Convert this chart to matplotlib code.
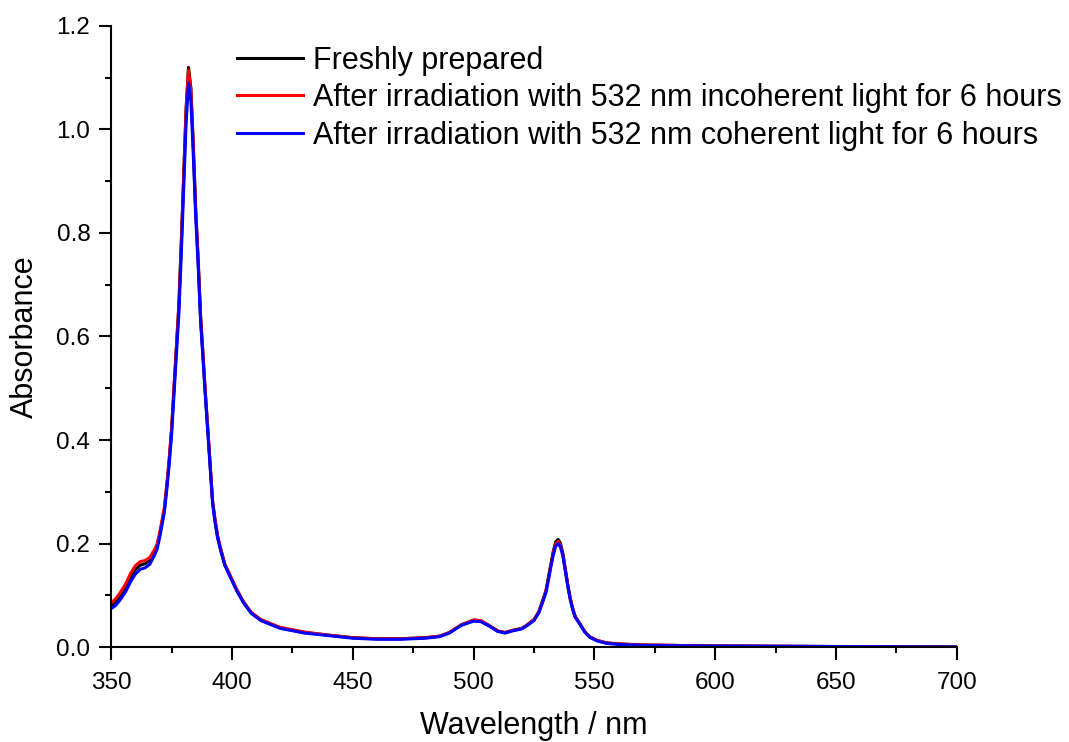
import numpy as np
import matplotlib.pyplot as plt
from matplotlib.ticker import MultipleLocator

plt.rcParams['font.family'] = ['Liberation Sans', 'DejaVu Sans']

# wavelengths (nm)
wl = [350, 352, 354, 356, 358, 360, 362, 364, 366, 368, 369, 370, 371, 372, 373,
      374, 375, 376, 377, 378, 379, 380, 381, 382, 383, 384, 385, 386, 387, 388,
      389, 390, 391, 392, 393, 394, 395, 397, 400, 402, 405, 408, 412, 420, 430,
      440, 450, 460, 470, 480, 486, 490, 495, 500, 503, 507, 510, 513, 516, 520,
      522, 525, 527, 529, 530, 531, 532, 533, 534, 535, 536, 537, 538, 539, 540,
      541, 542, 544, 546, 548, 551, 555, 560, 570, 600, 650, 700]

fresh = [0.080, 0.088, 0.100, 0.115, 0.135, 0.150, 0.158, 0.161, 0.168, 0.185, 0.195, 0.215, 0.240, 0.265, 0.310,
         0.360, 0.420, 0.500, 0.580, 0.660, 0.780, 0.910, 1.040, 1.120, 1.080, 0.970, 0.845, 0.750, 0.640, 0.565,
         0.490, 0.420, 0.350, 0.280, 0.245, 0.215, 0.195, 0.160, 0.130, 0.110, 0.085, 0.066, 0.052, 0.037, 0.028,
         0.023, 0.018, 0.016, 0.016, 0.018, 0.021, 0.028, 0.043, 0.052, 0.051, 0.040, 0.031, 0.028, 0.032, 0.036,
         0.042, 0.053, 0.068, 0.095, 0.110, 0.135, 0.160, 0.185, 0.203, 0.208, 0.200, 0.180, 0.150, 0.120, 0.095,
         0.075, 0.060, 0.045, 0.030, 0.020, 0.013, 0.008, 0.006, 0.004, 0.002, 0.001, 0.000]

incoherent = [0.085, 0.094, 0.107, 0.122, 0.142, 0.157, 0.165, 0.167, 0.173, 0.189, 0.199, 0.219, 0.244, 0.269, 0.313,
              0.363, 0.422, 0.502, 0.580, 0.658, 0.776, 0.905, 1.035, 1.115, 1.075, 0.966, 0.842, 0.748, 0.639, 0.565,
              0.490, 0.421, 0.351, 0.281, 0.246, 0.216, 0.196, 0.161, 0.131, 0.111, 0.086, 0.067, 0.053, 0.038, 0.029,
              0.023, 0.018, 0.016, 0.016, 0.018, 0.021, 0.028, 0.043, 0.052, 0.051, 0.040, 0.031, 0.028, 0.032, 0.036,
              0.042, 0.053, 0.068, 0.094, 0.109, 0.133, 0.158, 0.182, 0.199, 0.204, 0.197, 0.178, 0.149, 0.119, 0.094,
              0.075, 0.060, 0.045, 0.030, 0.020, 0.013, 0.008, 0.006, 0.004, 0.002, 0.001, 0.000]

coherent = [0.074, 0.081, 0.093, 0.107, 0.126, 0.141, 0.150, 0.153, 0.160, 0.178, 0.189, 0.210, 0.235, 0.260, 0.303,
            0.352, 0.410, 0.488, 0.565, 0.642, 0.757, 0.884, 1.010, 1.090, 1.055, 0.950, 0.830, 0.738, 0.630, 0.557,
            0.483, 0.414, 0.345, 0.276, 0.241, 0.212, 0.192, 0.158, 0.128, 0.108, 0.084, 0.065, 0.051, 0.036, 0.027,
            0.022, 0.017, 0.015, 0.015, 0.017, 0.020, 0.027, 0.042, 0.050, 0.049, 0.039, 0.030, 0.027, 0.031, 0.035,
            0.041, 0.051, 0.066, 0.092, 0.106, 0.130, 0.155, 0.178, 0.195, 0.200, 0.193, 0.175, 0.146, 0.117, 0.092,
            0.073, 0.058, 0.044, 0.029, 0.019, 0.012, 0.007, 0.005, 0.003, 0.002, 0.001, 0.000]

labels = ["Freshly prepared",
          "After irradiation with 532 nm incoherent light for 6 hours",
          "After irradiation with 532 nm coherent light for 6 hours"]

fig = plt.figure(figsize=(10.69, 7.42), dpi=100)
ax = fig.add_axes([0.104, 0.128, 0.791, 0.837])

ax.plot(wl, fresh, color="black", lw=2.2, label=labels[0])
ax.plot(wl, incoherent, color="red", lw=2.2, label=labels[1])
ax.plot(wl, coherent, color="blue", lw=2.2, label=labels[2])

ax.set_xlim(350, 700)
ax.set_ylim(0, 1.2)
ax.xaxis.set_major_locator(MultipleLocator(50))
ax.xaxis.set_minor_locator(MultipleLocator(25))
ax.yaxis.set_major_locator(MultipleLocator(0.2))
ax.yaxis.set_minor_locator(MultipleLocator(0.1))
ax.yaxis.set_major_formatter(plt.FormatStrFormatter('%.1f'))

for s in ["top", "right"]:
    ax.spines[s].set_visible(False)
for s in ["left", "bottom"]:
    ax.spines[s].set_linewidth(1.5)
ax.tick_params(which="major", direction="out", length=9, width=1.5, labelsize=17.5, pad=6)
ax.tick_params(axis="x", which="major", pad=9)
ax.tick_params(which="minor", direction="out", length=4, width=1.5)

ax.set_xlabel("Wavelength / nm", fontsize=22, labelpad=12)
ax.set_ylabel("Absorbance", fontsize=22, labelpad=12)

ax.legend(loc="upper left", bbox_to_anchor=(0.149, 0.968), frameon=False, fontsize=22,
          handlelength=2.15, handletextpad=0.33, labelspacing=0.24, borderpad=0, borderaxespad=0)

plt.savefig("out.png", dpi=100)
